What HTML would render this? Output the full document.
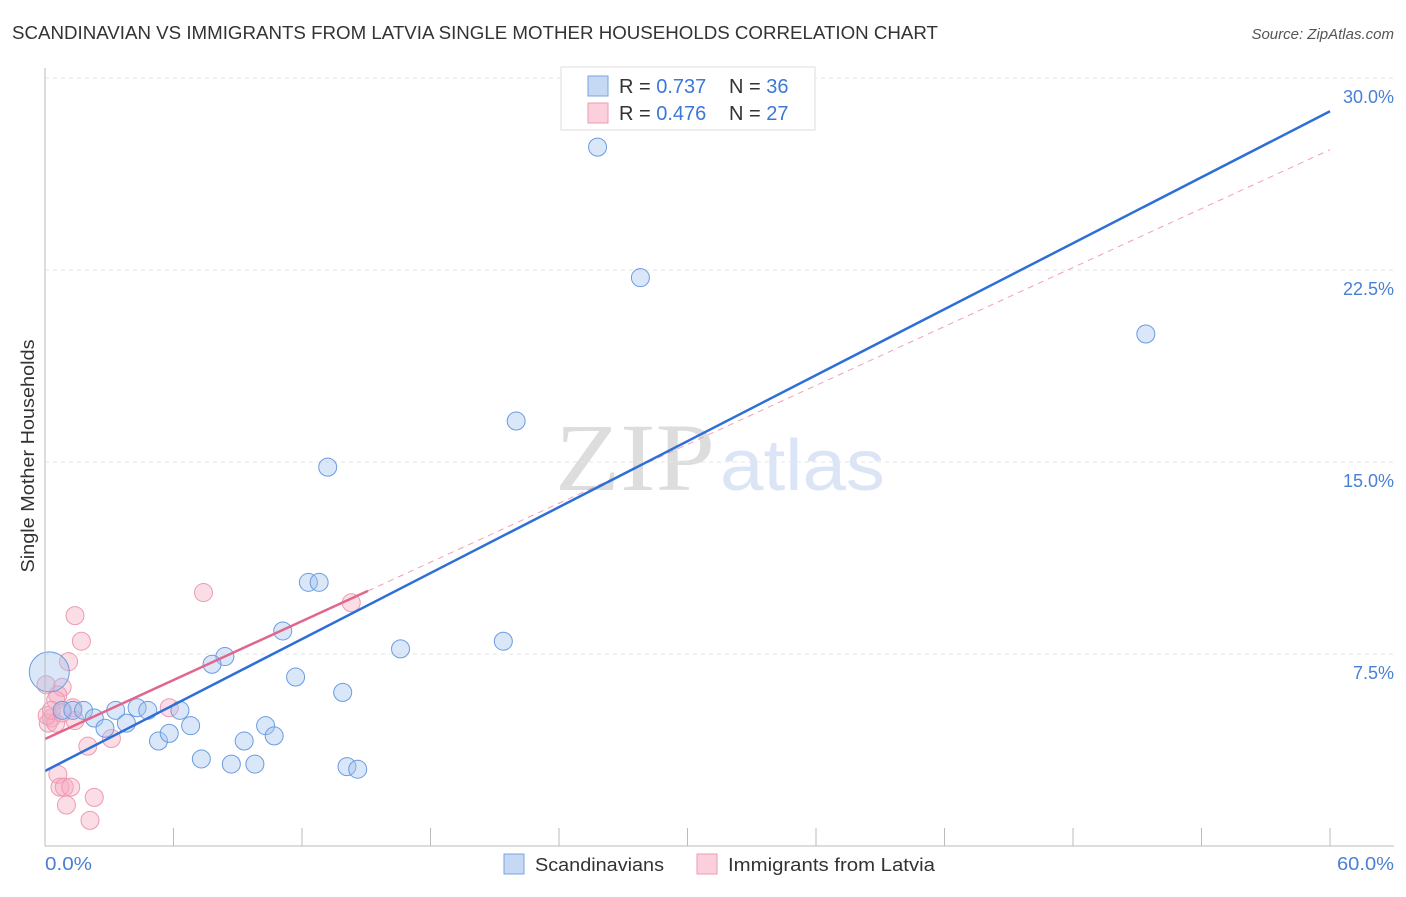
<!DOCTYPE html>
<html><head><meta charset="utf-8"><style>
body{margin:0;background:#fff;font-family:"Liberation Sans",sans-serif;}
</style></head><body>
<svg width="1406" height="892" xmlns="http://www.w3.org/2000/svg" id="svg">
<text x="12" y="39" font-size="18" fill="#333" textLength="926" lengthAdjust="spacingAndGlyphs">SCANDINAVIAN VS IMMIGRANTS FROM LATVIA SINGLE MOTHER HOUSEHOLDS CORRELATION CHART</text>
<text x="1394" y="39" font-size="15" fill="#555" text-anchor="end" font-style="italic">Source: ZipAtlas.com</text>
<text x="555" y="490" font-size="96" fill="#ddd" font-family="Liberation Serif" textLength="160" lengthAdjust="spacingAndGlyphs">ZIP</text>
<text x="720" y="490" font-size="72" fill="#dbe5f6" textLength="165" lengthAdjust="spacingAndGlyphs">atlas</text>
<text transform="translate(34,456) rotate(-90)" font-size="18" fill="#333" text-anchor="middle" textLength="233" lengthAdjust="spacingAndGlyphs">Single Mother Households</text>
<g id="grid"></g><g id="pts"></g><g id="lines"></g>
<line x1="45" y1="68" x2="45" y2="846" stroke="#bbb"/>
<line x1="45" y1="846" x2="1394" y2="846" stroke="#bbb"/>
<text x="45" y="870" font-size="18" fill="#4a7fd6" textLength="47" lengthAdjust="spacingAndGlyphs">0.0%</text>
<text x="1337" y="870" font-size="18" fill="#4a7fd6" textLength="57" lengthAdjust="spacingAndGlyphs">60.0%</text>
<g>
<rect x="561" y="67" width="254" height="63" fill="#fff" stroke="#ddd"/>
<rect x="588" y="76" width="20" height="20" fill="#c5d9f5" stroke="#7aa3e0"/>
<rect x="588" y="103" width="20" height="20" fill="#fbd0dc" stroke="#ee9ab2"/>
<text x="619" y="93" font-size="20" fill="#333">R = <tspan fill="#3b78d8">0.737</tspan></text>
<text x="729" y="93" font-size="20" fill="#333">N = <tspan fill="#3b78d8">36</tspan></text>
<text x="619" y="120" font-size="20" fill="#333">R = <tspan fill="#3b78d8">0.476</tspan></text>
<text x="729" y="120" font-size="20" fill="#333">N = <tspan fill="#3b78d8">27</tspan></text>
</g>
<g>
<rect x="504" y="854" width="20" height="20" fill="#c5d9f5" stroke="#7aa3e0"/>
<text x="535" y="871" font-size="18" fill="#333" textLength="129" lengthAdjust="spacingAndGlyphs">Scandinavians</text>
<rect x="697" y="854" width="20" height="20" fill="#fbd0dc" stroke="#ee9ab2"/>
<text x="728" y="871" font-size="18" fill="#333" textLength="207" lengthAdjust="spacingAndGlyphs">Immigrants from Latvia</text>
</g>
</svg>
<script>
const yTicks=[7.5,15,22.5,30];
const yTickLabels=["7.5%","15.0%","22.5%","30.0%"];
const xTicks=[0,6,12,18,24,30,36,42,48,54,60];
const blueX=[25.8,27.8,51.4,22.0,13.2,12.3,12.8,11.1,16.6,21.4,8.4,7.8,11.7,13.9,0.2,0.8,1.3,1.8,2.3,2.8,3.3,3.8,4.3,4.8,5.3,5.8,6.3,6.8,7.3,8.7,9.8,9.3,10.3,10.7,14.1,14.6];
const blueY=[27.3,22.2,20.0,16.6,14.8,10.3,10.3,8.4,7.7,8.0,7.4,7.1,6.6,6.0,6.8,5.3,5.3,5.3,5.0,4.6,5.3,4.8,5.4,5.3,4.1,4.4,5.3,4.7,3.4,3.2,3.2,4.1,4.7,4.3,3.1,3.0];
const blueR=[9,9,9,9,9,9,9,9,9,9,9,9,9,9,20,9,9,9,9,9,9,9,9,9,9,9,9,9,9,9,9,9,9,9,9,9];
const pinkX=[7.4,1.4,1.7,1.1,0.8,0.6,0.05,0.5,1.3,0.3,0.15,0.5,1.4,5.8,3.1,2.0,14.3,0.6,0.7,0.9,1.2,1.0,2.3,2.1,0.1,0.3,0.8];
const pinkY=[9.9,9.0,8.0,7.2,6.2,5.9,6.3,5.7,5.4,5.0,4.8,4.8,4.9,5.4,4.2,3.9,9.5,2.8,2.3,2.3,2.3,1.6,1.9,1.0,5.1,5.3,5.2];
const blueLine=[2.93,28.7];
const pinkLine=[4.18,27.2];
const pinkSolidEnd=15.08;
const X=v=>45+v*21.417, Y=v=>846-v*25.6;
const NS="http://www.w3.org/2000/svg";
function mk(t,a,p){const e=document.createElementNS(NS,t);for(const k in a)e.setAttribute(k,a[k]);document.getElementById(p).appendChild(e);return e;}
yTicks.forEach((t,i)=>{
 const l=mk('line',{x1:45,x2:1394,y1:Y(t),y2:Y(t),stroke:'#e6e6e6','stroke-dasharray':'4,4'},'grid');
 
 
 const tx=mk('text',{x:1394,y:Y(t)+25,'font-size':18,fill:'#4a7fd6','text-anchor':'end'},'grid');
 tx.textContent=yTickLabels[i];
 
 
});
xTicks.forEach(t=>{
 const l=mk('line',{x1:X(t),x2:X(t),y1:828,y2:846,stroke:'#bbb'},'grid');
 
 
});
pinkX.forEach((x,i)=>{
 const c=mk('circle',{cx:X(x),cy:Y(pinkY[i]),r:9,fill:'rgba(246,170,192,0.4)',stroke:'#ee9ab2','stroke-width':1},'pts');
 
 
});
blueX.forEach((x,i)=>{
 const c=mk('circle',{cx:X(x),cy:Y(blueY[i]),r:blueR[i],fill:'rgba(160,195,240,0.4)',stroke:'#6b9be0','stroke-width':1},'pts');
 
 
});
const pAt=v=>pinkLine[0]+(pinkLine[1]-pinkLine[0])*v/60;
let l=mk('line',{x1:X(pinkSolidEnd),y1:Y(pAt(pinkSolidEnd)),x2:X(60),y2:Y(pinkLine[1]),stroke:'#eea0b8','stroke-width':1,'stroke-dasharray':'6,5'},'lines');


l=mk('line',{x1:X(0),y1:Y(blueLine[0]),x2:X(60),y2:Y(blueLine[1]),stroke:'#2d6fd6','stroke-width':2.5},'lines');


l=mk('line',{x1:X(0),y1:Y(pinkLine[0]),x2:X(pinkSolidEnd),y2:Y(pAt(pinkSolidEnd)),stroke:'#e2668c','stroke-width':2.5},'lines');


</script>
</body></html>
